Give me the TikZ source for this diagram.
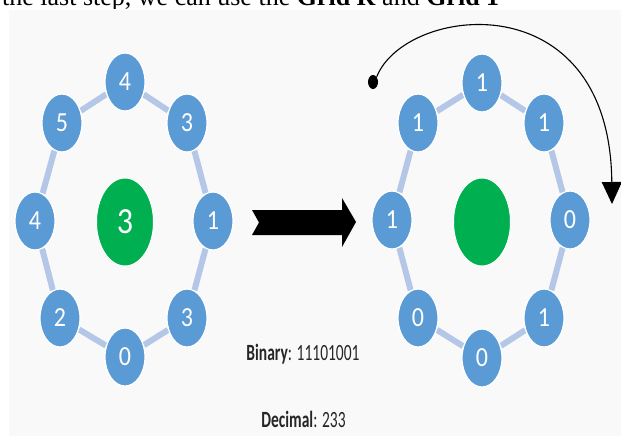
\documentclass[tikz,border=0pt]{standalone}
\usepackage{fontspec}
\usepackage{graphicx}
\setmainfont{Carlito}
\newfontfamily\seriffont{Liberation Serif}
\usetikzlibrary{shapes.geometric,arrows.meta,backgrounds}
\definecolor{nodeblue}{HTML}{5B9BD5}
\definecolor{ringblue}{HTML}{B4C7E7}
\definecolor{greenc}{HTML}{00B050}
\definecolor{bggray}{HTML}{F9F9F9}
\newcommand{\dg}[1]{\scalebox{1}[1.15]{#1}}
\newcommand{\tx}[1]{\scalebox{1}[1.5]{#1}}
\tikzset{
  bnode/.style={ellipse, fill=nodeblue, draw=white, line width=1.2pt,
    minimum width=40pt, minimum height=58pt, inner sep=0pt, text=white,
    font=\fontsize{24}{24}\selectfont},
  gnode/.style={ellipse, fill=greenc, draw=white, line width=1pt,
    minimum width=57pt, minimum height=88pt, inner sep=0pt, text=white,
    font=\fontsize{32}{32}\selectfont},
  ring/.style={draw=ringblue, line width=6pt},
  lbl/.style={inner sep=0pt, font=\fontsize{15.5}{16}\selectfont, text=black!85}
}
\begin{document}
\begin{tikzpicture}[x=1pt,y=-1pt]
\useasboundingbox (0,0) rectangle (621,436);
% top cropped text line
\begin{scope}
\clip (0,0) rectangle (621,9);
\node[anchor=base west, inner sep=0pt, font=\seriffont\fontsize{26}{26}\selectfont] (toptext) at (2,6)
  {the last step, we can use the \textbf{Grid R} and \textbf{Grid 1}};
\end{scope}
% left ring
\node[bnode] (L1) at (125,82) {\dg{4}};
\node[bnode] (L2) at (187,123) {\dg{3}};
\node[bnode] (L3) at (213,221) {\dg{1}};
\node[bnode] (L4) at (187,318) {\dg{3}};
\node[bnode] (L5) at (125,357) {\dg{0}};
\node[bnode] (L6) at (60,318) {\dg{2}};
\node[bnode] (L7) at (35,221) {\dg{4}};
\node[bnode] (L8) at (62,123) {\dg{5}};
\node[gnode] (LC) at (125,222) {\dg{3}};
% right ring
\node[bnode] (R1) at (482,83) {\dg{1}};
\node[bnode] (R2) at (544,123) {\dg{1}};
\node[bnode] (R3) at (570,220) {\dg{0}};
\node[bnode] (R4) at (544,318) {\dg{1}};
\node[bnode] (R5) at (482,358) {\dg{0}};
\node[bnode] (R6) at (418,318) {\dg{0}};
\node[bnode] (R7) at (392,220) {\dg{1}};
\node[bnode] (R8) at (418,123) {\dg{1}};
\node[gnode] (RC) at (482,222) {};
\begin{scope}[on background layer]
  \fill[bggray] (9,10) rectangle (621,436);
  \foreach \a/\b in {1/2,2/3,3/4,4/5,5/6,6/7,7/8,8/1}{
    \draw[ring] (L\a) -- (L\b);
    \draw[ring] (R\a) -- (R\b);
  }
\end{scope}
% big black arrow
\fill[black] (252,210) -- (342,210) -- (342,198) -- (356,222) -- (342,247)
  -- (342,235) -- (252,235) -- (259,222.5) -- cycle;
% curved arrow
\node[ellipse, fill=black, minimum width=10pt, minimum height=14pt, inner sep=0pt] (dot) at (373,82) {};
\coordinate (tipend) at (612,204);
\draw[line width=1.1pt, -{Triangle[length=22pt,width=20pt]}]
  (dot.north east) .. controls (405,5) and (610,-20) .. (tipend);
% texts
\node[lbl] (bin) at (303,354) {\tx{\textbf{Binary}: 11101001}};
\node[lbl] (dec) at (303.5,419) {\tx{\textbf{Decimal}: 233}};
\end{tikzpicture}
\end{document}
